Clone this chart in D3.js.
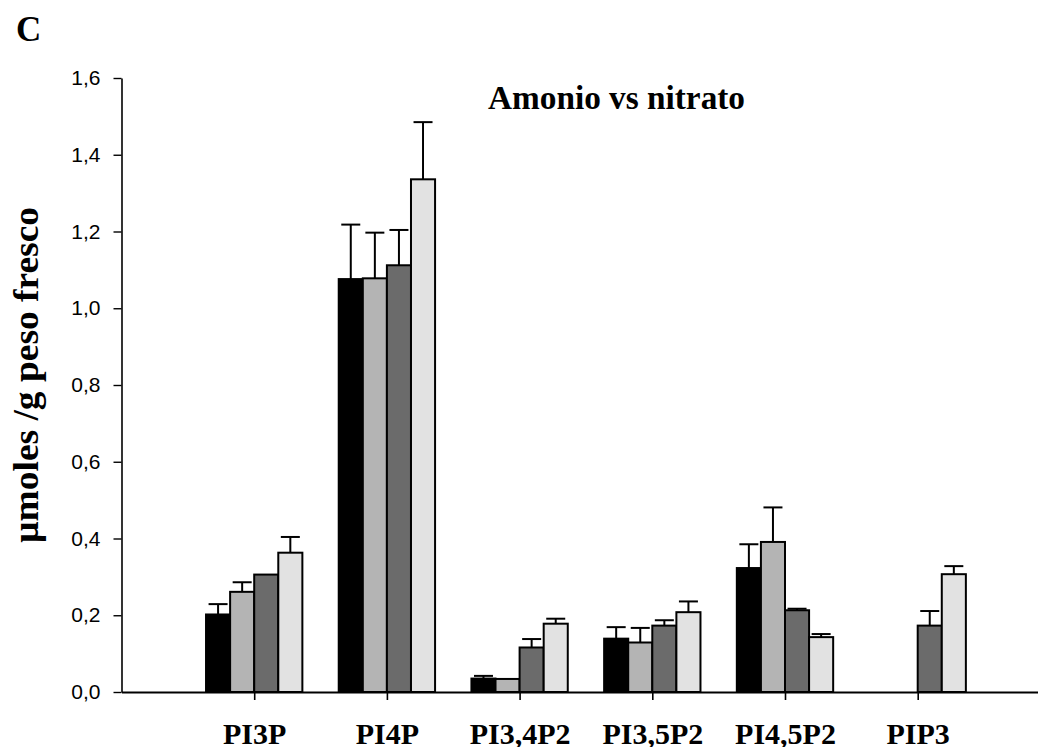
<!DOCTYPE html>
<html>
<head>
<meta charset="utf-8">
<script src="https://cdn.jsdelivr.net/npm/d3@7"></script>
<style>
  html, body { margin: 0; padding: 0; background: #fff; }
  svg { display: block; }
</style>
</head>
<body>
<svg id="chart" width="1038" height="747"></svg>
<script>
// ---- Data ----
const categories = ["PI3P", "PI4P", "PI3,4P2", "PI3,5P2", "PI4,5P2", "PIP3"];
const seriesNames = ["s1", "s2", "s3", "s4"];
const s1Values = [0.202, 1.076, 0.035, 0.139, 0.323, null];
const s1Errors = [0.027, 0.142, 0.007, 0.030, 0.062, null];
const s2Values = [0.261, 1.078, 0.034, 0.129, 0.391, null];
const s2Errors = [0.025, 0.119, 0.000, 0.038, 0.090, null];
const s3Values = [0.306, 1.112, 0.116, 0.173, 0.213, 0.173];
const s3Errors = [0.000, 0.092, 0.022, 0.014, 0.004, 0.038];
const s4Values = [0.363, 1.336, 0.178, 0.208, 0.143, 0.307];
const s4Errors = [0.041, 0.149, 0.013, 0.028, 0.008, 0.021];
const yTicks = [0, 0.2, 0.4, 0.6, 0.8, 1.0, 1.2, 1.4, 1.6];
const titleText = "Amonio vs nitrato";
const yLabelText = "µmoles /g peso fresco";
const panelLetter = "C";

// ---- Styles ----
const colors = ["#000000", "#b4b4b4", "#6b6b6b", "#e2e2e2"];
const serifBold = "'Liberation Serif', 'Times New Roman', serif";
const sans = "'Liberation Sans', Arial, sans-serif";

const values = [s1Values, s2Values, s3Values, s4Values];
const errors = [s1Errors, s2Errors, s3Errors, s4Errors];
const data = [];
categories.forEach((c, i) => {
  seriesNames.forEach((s, j) => {
    if (values[j][i] != null) data.push({ cat: i, ser: j, v: values[j][i], e: errors[j][i] });
  });
});

const svg = d3.select("#chart");
const y = d3.scaleLinear().domain([0, 1.6]).range([692, 78]);
const x = d3.scaleLinear().domain([0, 7]).range([121.5, 121.5 + 7 * 132.7]);
const step = x(1) - x(0);
const sub = d3.scaleBand().domain(d3.range(seriesNames.length)).range([-step * 0.363, step * 0.363]).padding(0);

// bars
svg.append("g").selectAll("rect").data(data).join("rect")
  .attr("x", d => x(d.cat + 1) + sub(d.ser))
  .attr("width", sub.bandwidth())
  .attr("y", d => y(d.v))
  .attr("height", d => y(0) - y(d.v))
  .attr("fill", d => colors[d.ser])
  .attr("stroke", "#000")
  .attr("stroke-width", 2);

// error bars
const eb = svg.append("g").attr("stroke", "#000").attr("stroke-width", 2);
const withErr = data.filter(d => d.e > 0);
eb.selectAll("line.v").data(withErr).join("line").attr("class", "v")
  .attr("x1", d => x(d.cat + 1) + sub(d.ser) + sub.bandwidth() / 2)
  .attr("x2", d => x(d.cat + 1) + sub(d.ser) + sub.bandwidth() / 2)
  .attr("y1", d => y(d.v))
  .attr("y2", d => y(d.v + d.e));
eb.selectAll("line.c").data(withErr).join("line").attr("class", "c")
  .attr("x1", d => x(d.cat + 1) + sub(d.ser) + sub.bandwidth() / 2 - 9.5)
  .attr("x2", d => x(d.cat + 1) + sub(d.ser) + sub.bandwidth() / 2 + 9.5)
  .attr("y1", d => y(d.v + d.e))
  .attr("y2", d => y(d.v + d.e));

// y axis
const yAxis = svg.append("g").attr("transform", `translate(${x(0)},0)`)
  .call(d3.axisLeft(y).tickValues(yTicks)
    .tickFormat(d => d3.format(".1f")(d).replace(".", ","))
    .tickSize(8).tickSizeOuter(0).tickPadding(13));
yAxis.select(".domain").attr("stroke-width", 1.6);
yAxis.selectAll(".tick line").attr("stroke-width", 1.4);
yAxis.selectAll("text").attr("font-family", sans).attr("font-size", 21).attr("fill", "#000");

// x axis
const xAxis = svg.append("g").attr("transform", `translate(0,${y(0)})`)
  .call(d3.axisBottom(x).tickValues(d3.range(1, categories.length + 1))
    .tickFormat(i => categories[i - 1]).tickSize(8).tickSizeOuter(0));
xAxis.select(".domain").attr("stroke-width", 2.2);
xAxis.selectAll(".tick line").attr("stroke-width", 1.6);
xAxis.selectAll("text").attr("font-family", serifBold).attr("font-weight", "bold")
  .attr("font-size", 30).attr("fill", "#000").attr("y", 52).attr("dy", 0);

// title
svg.append("text").attr("x", 488).attr("y", 109)
  .attr("font-family", serifBold).attr("font-weight", "bold").attr("font-size", 33)
  .attr("textLength", 257).attr("lengthAdjust", "spacingAndGlyphs")
  .text(titleText);

// y label
svg.append("text").attr("transform", "translate(38,375) rotate(-90)")
  .attr("text-anchor", "middle")
  .attr("font-family", serifBold).attr("font-weight", "bold").attr("font-size", 35)
  .attr("textLength", 336).attr("lengthAdjust", "spacingAndGlyphs")
  .text(yLabelText);

// panel letter
svg.append("text").attr("x", 16).attr("y", 41)
  .attr("font-family", serifBold).attr("font-weight", "bold").attr("font-size", 35)
  .text(panelLetter);
</script>
</body>
</html>
